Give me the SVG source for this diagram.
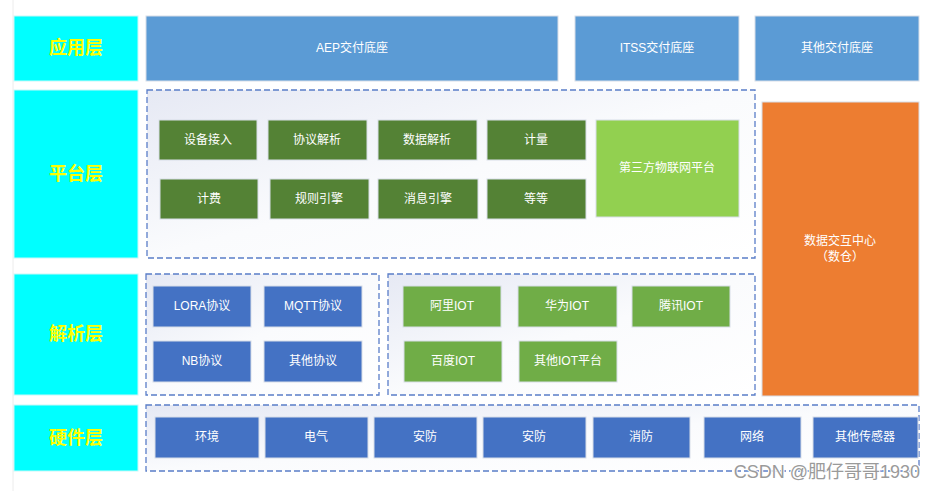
<svg xmlns="http://www.w3.org/2000/svg" width="935" height="491" viewBox="0 0 935 491">
<style>
text{font-family:"Liberation Sans","Noto Sans CJK SC",sans-serif;}
.lay rect{fill:#00ffff;stroke:#c8f8f8;stroke-width:1;}
.lay text{fill:#ffff00;font-size:18px;font-weight:bold;text-anchor:middle;dominant-baseline:central;}
.n text{fill:#ffffff;font-size:12px;text-anchor:middle;dominant-baseline:central;}
.n rect{stroke:#d8dee8;stroke-width:1;}
.app rect{fill:#5b9bd5;}
.dg rect{fill:#548235;}
.lg rect{fill:#92d050;}
.ig rect{fill:#70ad47;}
.bl rect{fill:#4472c4;}
.or rect{fill:#ed7d31;}
.grp{fill:url(#bg);stroke:#5a7dc8;stroke-width:1.3;stroke-dasharray:6 3;}
</style>
<defs>
<linearGradient id="bg" x1="0" y1="0" x2="1" y2="1">
<stop offset="0" stop-color="#e6e9f4"/>
<stop offset="0.5" stop-color="#fafbfd"/>
<stop offset="1" stop-color="#ffffff"/>
</linearGradient>
</defs>
<rect width="935" height="491" fill="#ffffff"/>
<line x1="13" y1="0" x2="13" y2="491" stroke="#ececec" stroke-width="1"/>

<g id="layers">
<g id="layer-app" class="lay"><rect x="14" y="16" width="124" height="65"/><text x="76" y="48">应用层</text></g>
<g id="layer-platform" class="lay"><rect x="14" y="90" width="124" height="168"/><text x="76" y="174">平台层</text></g>
<g id="layer-parse" class="lay"><rect x="14" y="274" width="124" height="121"/><text x="76" y="334">解析层</text></g>
<g id="layer-hw" class="lay"><rect x="14" y="405" width="124" height="66"/><text x="76" y="438">硬件层</text></g>
</g>

<g id="groups">
<rect id="grp-platform" class="grp" x="147" y="90" width="608" height="168"/>
<rect id="grp-proto" class="grp" x="146" y="274" width="233" height="121"/>
<rect id="grp-iot" class="grp" x="388" y="274" width="367" height="121"/>
<rect id="grp-hw" class="grp" x="146" y="405" width="773" height="66"/>
</g>

<g id="app-aep" class="n app"><rect x="146" y="16" width="412" height="65"/><text x="352" y="48">AEP交付底座</text></g>
<g id="app-itss" class="n app"><rect x="575" y="16" width="164" height="65"/><text x="657" y="48">ITSS交付底座</text></g>
<g id="app-other" class="n app"><rect x="755" y="16" width="164" height="65"/><text x="837" y="48">其他交付底座</text></g>

<g id="p-device" class="n dg"><rect x="159" y="120" width="98" height="40"/><text x="208" y="140">设备接入</text></g>
<g id="p-proto" class="n dg"><rect x="268" y="120" width="99" height="40"/><text x="317" y="140">协议解析</text></g>
<g id="p-data" class="n dg"><rect x="378" y="120" width="99" height="40"/><text x="427" y="140">数据解析</text></g>
<g id="p-meter" class="n dg"><rect x="487" y="120" width="99" height="40"/><text x="536" y="140">计量</text></g>
<g id="p-bill" class="n dg"><rect x="160" y="179" width="98" height="40"/><text x="209" y="199">计费</text></g>
<g id="p-rule" class="n dg"><rect x="270" y="179" width="99" height="40"/><text x="319" y="199">规则引擎</text></g>
<g id="p-msg" class="n dg"><rect x="378" y="179" width="100" height="40"/><text x="428" y="199">消息引擎</text></g>
<g id="p-etc" class="n dg"><rect x="487" y="179" width="99" height="40"/><text x="536" y="199">等等</text></g>
<g id="p-third" class="n lg"><rect x="596" y="120" width="143" height="97"/><text x="667" y="168">第三方物联网平台</text></g>

<g id="data-center" class="n or"><rect x="762" y="102" width="157" height="294"/><text x="840" y="241">数据交互中心</text><text x="840" y="257">（数仓）</text></g>

<g id="r-lora" class="n bl"><rect x="153" y="286" width="98" height="41"/><text x="202" y="306">LORA协议</text></g>
<g id="r-mqtt" class="n bl"><rect x="264" y="286" width="98" height="41"/><text x="313" y="306">MQTT协议</text></g>
<g id="r-nb" class="n bl"><rect x="153" y="341" width="98" height="41"/><text x="202" y="361">NB协议</text></g>
<g id="r-other" class="n bl"><rect x="264" y="341" width="98" height="41"/><text x="313" y="361">其他协议</text></g>

<g id="i-ali" class="n ig"><rect x="403" y="286" width="98" height="41"/><text x="452" y="306">阿里IOT</text></g>
<g id="i-huawei" class="n ig"><rect x="518" y="286" width="99" height="41"/><text x="567" y="306">华为IOT</text></g>
<g id="i-tencent" class="n ig"><rect x="632" y="286" width="98" height="41"/><text x="681" y="306">腾讯IOT</text></g>
<g id="i-baidu" class="n ig"><rect x="404" y="341" width="98" height="41"/><text x="453" y="361">百度IOT</text></g>
<g id="i-other" class="n ig"><rect x="519" y="341" width="98" height="41"/><text x="568" y="361">其他IOT平台</text></g>

<g id="h-env" class="n bl"><rect x="155" y="417" width="104" height="41"/><text x="207" y="437">环境</text></g>
<g id="h-elec" class="n bl"><rect x="265" y="417" width="103" height="41"/><text x="316" y="437">电气</text></g>
<g id="h-sec1" class="n bl"><rect x="374" y="417" width="103" height="41"/><text x="425" y="437">安防</text></g>
<g id="h-sec2" class="n bl"><rect x="483" y="417" width="103" height="41"/><text x="534" y="437">安防</text></g>
<g id="h-fire" class="n bl"><rect x="593" y="417" width="97" height="41"/><text x="641" y="437">消防</text></g>
<g id="h-net" class="n bl"><rect x="704" y="417" width="97" height="41"/><text x="752" y="437">网络</text></g>
<g id="h-sensor" class="n bl"><rect x="813" y="417" width="105" height="41"/><text x="865" y="437">其他传感器</text></g>

<g id="connectors"></g>

<text x="920" y="478" text-anchor="end" font-size="18" fill="#9a9a9a" stroke="#ffffff" stroke-width="2" paint-order="stroke">CSDN @肥仔哥哥1930</text>
</svg>
